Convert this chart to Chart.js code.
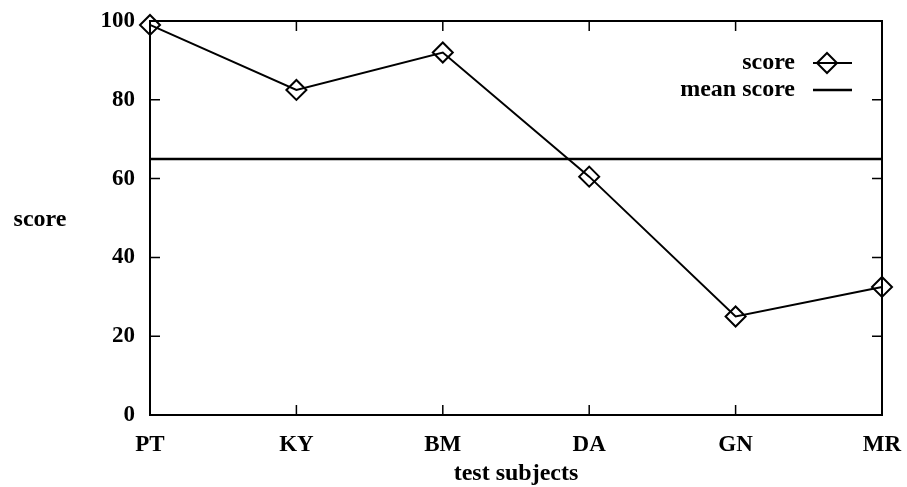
<!DOCTYPE html>
<html>
<head>
<meta charset="utf-8">
<script src="https://cdn.jsdelivr.net/npm/chart.js@4/dist/chart.umd.min.js"></script>
<style>
  html, body { margin: 0; padding: 0; background: #fff; }
  #c { display: block; }
</style>
</head>
<body>
<canvas id="c" width="907" height="487"></canvas>
<script>
// ---- data ----
const subjects = ['PT', 'KY', 'BM', 'DA', 'GN', 'MR'];
const scores = [99, 82.5, 92, 60.5, 25, 32.5];
const meanScores = [65, 65, 65, 65, 65, 65];
const yTicks = [0, 20, 40, 60, 80, 100];
const xTitle = 'test subjects';
const yTitle = 'score';
const seriesLabels = ['score', 'mean score'];

const TEXT_FONT = 'bold 24px "Liberation Serif"';
const TICK_FONT = { family: 'Liberation Serif', size: 23, weight: 'bold' };

const framePlugin = {
  id: 'frame',
  beforeDatasetsDraw(chart) {
    const { ctx, chartArea: a, scales } = chart;
    ctx.save();
    ctx.strokeStyle = '#000';
    ctx.lineWidth = 2;
    ctx.strokeRect(a.left, a.top, a.right - a.left, a.bottom - a.top);
    const tl = 10;
    ctx.lineWidth = 1.5;
    ctx.beginPath();
    const xs = scales.x;
    for (let i = 0; i < subjects.length; i++) {
      const px = xs.getPixelForValue(i);
      ctx.moveTo(px, a.bottom); ctx.lineTo(px, a.bottom - tl);
      ctx.moveTo(px, a.top); ctx.lineTo(px, a.top + tl);
    }
    const ys = scales.y;
    yTicks.forEach(v => {
      const py = ys.getPixelForValue(v);
      ctx.moveTo(a.left, py); ctx.lineTo(a.left + tl, py);
      ctx.moveTo(a.right, py); ctx.lineTo(a.right - tl, py);
    });
    ctx.stroke();
    ctx.restore();
  },
  afterDraw(chart) {
    const { ctx, chartArea: a } = chart;
    ctx.save();
    ctx.fillStyle = '#000';
    ctx.font = TEXT_FONT;
    ctx.textBaseline = 'middle';
    // y axis title (horizontal)
    ctx.textAlign = 'center';
    ctx.fillText(yTitle, 40, 220);
    // legend
    const textRight = a.right - 87;
    const rows = [a.top + 42, a.top + 69];
    ctx.textAlign = 'right';
    ctx.fillText(seriesLabels[0], textRight, rows[0]);
    ctx.fillText(seriesLabels[1], textRight, rows[1]);
    const x0 = a.right - 69, x1 = a.right - 30;
    ctx.strokeStyle = '#000';
    ctx.lineWidth = 2;
    ctx.beginPath();
    ctx.moveTo(x0, rows[0]); ctx.lineTo(x1, rows[0]);
    ctx.stroke();
    const cx = a.right - 55, r = 10;
    ctx.beginPath();
    ctx.moveTo(cx - r, rows[0]); ctx.lineTo(cx, rows[0] - r);
    ctx.lineTo(cx + r, rows[0]); ctx.lineTo(cx, rows[0] + r);
    ctx.closePath();
    ctx.stroke();
    ctx.lineWidth = 2.5;
    ctx.beginPath();
    ctx.moveTo(x0, rows[1]); ctx.lineTo(x1, rows[1]);
    ctx.stroke();
    ctx.restore();
  }
};

new Chart(document.getElementById('c'), {
  type: 'line',
  data: {
    labels: subjects,
    datasets: [
      {
        label: seriesLabels[0],
        data: scores,
        borderColor: '#000',
        borderWidth: 2,
        tension: 0,
        pointStyle: 'rectRot',
        pointRadius: 10,
        pointBorderWidth: 2,
        pointBorderColor: '#000',
        pointBackgroundColor: 'rgba(255,255,255,0)',
        clip: false
      },
      {
        label: seriesLabels[1],
        data: meanScores,
        borderColor: '#000',
        borderWidth: 2.5,
        tension: 0,
        pointRadius: 0,
        clip: false
      }
    ]
  },
  options: {
    responsive: false,
    animation: false,
    devicePixelRatio: 1,
    layout: { padding: { left: 0, right: 25, top: 21, bottom: 0 } },
    plugins: { legend: { display: false }, tooltip: { enabled: false } },
    scales: {
      x: {
        type: 'category',
        offset: false,
        grid: { display: false, drawTicks: false },
        border: { display: false },
        ticks: { color: '#000', font: TICK_FONT, padding: 16, maxRotation: 0, autoSkip: false },
        title: {
          display: true,
          text: xTitle,
          color: '#000',
          font: { family: 'Liberation Serif', size: 24, weight: 'bold', lineHeight: 0.75 }
        },
        afterFit(scale) {
          scale.height = 72;
          scale.paddingLeft = 0; scale.paddingRight = 0;
        }
      },
      y: {
        min: 0,
        max: 100,
        grid: { display: false, drawTicks: false },
        border: { display: false },
        afterBuildTicks(scale) { scale.ticks = yTicks.map(v => ({ value: v })); },
        ticks: { color: '#000', font: TICK_FONT, padding: 15 },
        afterFit(scale) {
          scale.width = 150;
          scale.paddingTop = 0; scale.paddingBottom = 0;
        }
      }
    }
  },
  plugins: [framePlugin]
});
</script>
</body>
</html>
